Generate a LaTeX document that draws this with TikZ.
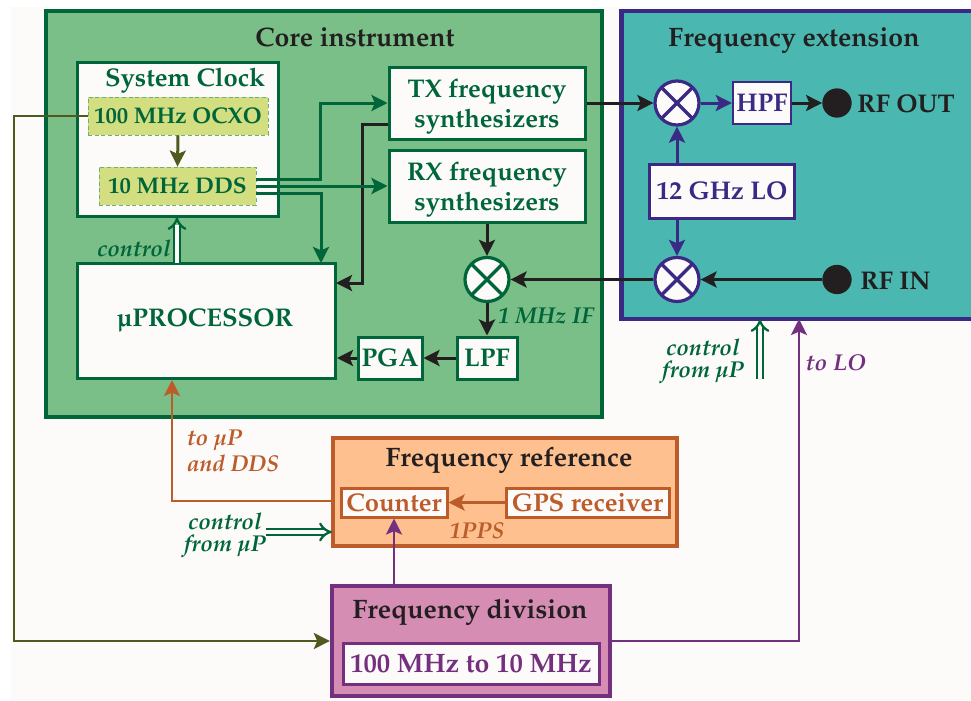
\documentclass[tikz,border=0pt]{standalone}
\usepackage[T1]{fontenc}
\usepackage{textcomp}
\usepackage{palatino}
\usetikzlibrary{arrows.meta}

\definecolor{paper}{HTML}{FDFBFA}
\definecolor{inkblack}{HTML}{231F20}
\definecolor{instgreen}{HTML}{00663A}
\definecolor{instfill}{HTML}{79BF87}
\definecolor{extblue}{HTML}{3B2A85}
\definecolor{extfill}{HTML}{4AB8B0}
\definecolor{reforange}{HTML}{BC5C2A}
\definecolor{reffill}{HTML}{FDC08E}
\definecolor{divpurple}{HTML}{74307F}
\definecolor{divfill}{HTML}{D68DB4}
\definecolor{clockolive}{HTML}{4F5A1F}
\definecolor{clockfill}{HTML}{D3DE80}
\definecolor{clockdash}{HTML}{6FB07A}

\newcommand{\titlefont}{\fontsize{20}{24}\selectfont\bfseries}
\newcommand{\blockfont}{\fontsize{19.2}{22.5}\selectfont\bfseries}
\newcommand{\clockfont}{\fontsize{17}{20}\selectfont\bfseries}
\newcommand{\notefont}{\fontsize{17.2}{16.5}\selectfont\bfseries\itshape}

\tikzset{
	boxsize/.style 2 args={minimum width=#1*0.75pt, minimum height=#2*0.75pt},
	panel/.style={draw=#1, line width=3.2pt, inner sep=0pt},
	block/.style={draw=#1, text=#1, fill=paper, line width=2.25pt, inner sep=0pt, align=center, font=\blockfont},
	blocktext/.style={text=#1, inner sep=0pt, align=center, font=\blockfont},
	clockbox/.style={draw=clockdash, densely dashed, fill=clockfill, text=instgreen, line width=0.6pt, inner sep=0pt, font=\clockfont},
	mixer/.style={circle, draw=#1, fill=paper, line width=2.4pt, inner sep=0pt, minimum size=33pt, path picture={
		\draw[#1, line width=2.4pt] (path picture bounding box.north west) -- (path picture bounding box.south east);
		\draw[#1, line width=2.4pt] (path picture bounding box.north east) -- (path picture bounding box.south west);
	}},
	port/.style={circle, fill=inkblack, inner sep=0pt, minimum size=22pt},
	title/.style={text=inkblack, font=\titlefont, inner sep=0pt},
	note/.style={text=#1, font=\notefont, inner sep=0pt, align=center},
	wire/.style={draw=#1, line width=2.25pt, -{Stealth[length=12pt, width=12pt, inset=2.5pt]}},
	thinwire/.style={draw=#1, line width=2.05pt, -{Stealth[length=12pt, width=12pt, inset=2.5pt]}},
	ctrlwire/.style={draw=instgreen, line width=1.7pt, double=paper, double distance=3pt, -{Implies[scale=1.3]}}
}

\begin{document}
\begin{tikzpicture}[x=0.75pt, y=-0.75pt]
	\useasboundingbox (0,0) rectangle (971,700);
	\fill[paper] (11,7) rectangle (971,700);

	\node[panel=instgreen, fill=instfill, boxsize={556}{406}] (core) at (324,214) {};
	\node[panel=extblue, fill=extfill, boxsize={353}{308}] (ext) at (798,165) {};
	\node[panel=reforange, fill=reffill, boxsize={344}{108}] (ref) at (505,492) {};
	\node[panel=divpurple, fill=divfill, boxsize={278}{110}] (div) at (471,641) {};

	\node[title] (coretitle) at (355,37) {Core instrument};
	\node[title] (exttitle) at (794,41) {Frequency extension};
	\node[title] (reftitle) at (509,460) {Frequency reference};
	\node[title] (divtitle) at (470,612) {Frequency division};

	\node[block=instgreen, boxsize={201}{154}] (clock) at (177.5,139) {};
	\node[blocktext=instgreen] (clocktitle) at (185,81) {System Clock};
	\node[clockbox, boxsize={180}{38}] (ocxo) at (178,116) {100 MHz OCXO};
	\node[clockbox, boxsize={157}{38}] (dds) at (177.5,186) {10 MHz DDS};
	\node[block=instgreen, boxsize={196}{72}] (tx) at (487,103) {};
	\node[blocktext=instgreen] (txtext) at (487,107) {TX frequency\\synthesizers};
	\node[block=instgreen, boxsize={196}{72}] (rx) at (487,186) {};
	\node[blocktext=instgreen] (rxtext) at (487,190) {RX frequency\\synthesizers};
	\node[mixer=instgreen] (mix) at (487,279.5) {};
	\node[block=instgreen, boxsize={60}{42}] (lpf) at (487,358) {LPF};
	\node[block=instgreen, boxsize={64}{42}] (pga) at (390,358) {PGA};
	\node[block=instgreen, boxsize={258}{115}] (up) at (206.5,321) {};
	\node[blocktext=instgreen] (uptext) at (205,320) {\textmu PROCESSOR};

	\node[mixer=extblue] (mixt) at (677,103) {};
	\node[mixer=extblue] (mixb) at (677,279.5) {};
	\node[block=extblue, boxsize={58}{42}, line width=1.8pt] (hpf) at (762,103) {HPF};
	\node[block=extblue, boxsize={145}{54}] (lo) at (722,191) {12 GHz LO};
	\node[port] (rfout) at (837,103) {};
	\node[port] (rfin) at (837,279.5) {};
	\node[title, font=\blockfont] (rfouttext) at (906,104) {RF OUT};
	\node[title, font=\blockfont] (rfintext) at (895.5,281) {RF IN};

	\node[block=reforange, boxsize={106}{29}] (counter) at (394,502.5) {Counter};
	\node[block=reforange, boxsize={163}{29}] (gps) at (587.5,502.5) {GPS receiver};
	\node[block=divpurple, boxsize={256}{41}, font=\titlefont] (conv) at (471,663.5) {100 MHz to 10 MHz};

	\node[note=instgreen] (ctrlclock) at (134,249) {control};
	\node[note=instgreen] (imf) at (546,316) {1 MHz IF};
	\node[note=instgreen] (ctrlext) at (703,361) {control\\from \textmu P};
	\node[note=divpurple] (tolo) at (836,363) {to LO};
	\node[note=reforange, align=left, font=\fontsize{17.2}{19}\selectfont\bfseries\itshape] (toup) at (233,451) {to \textmu P\\and DDS};
	\node[note=reforange] (pps) at (477,530) {1PPS};
	\node[note=instgreen] (ctrlref) at (225,535) {control\\from \textmu P};

	\coordinate (oscbus) at (14,641);
	\coordinate (ddstx) at (256,179);
	\coordinate (txbend) at (320,179);
	\coordinate (ddsup) at (256,193);
	\coordinate (upin) at (321,263);
	\coordinate (txout) at (388,124);
	\coordinate (upret) at (362,283);
	\coordinate (upback) at (336,283);
	\coordinate (lotap) at (799,319);
	\coordinate (refout) at (333,501);
	\coordinate (upref) at (172,380);
	\coordinate (ctrlup) at (177,263);
	\coordinate (ctrlclk) at (177,217);
	\coordinate (ctrlfrom) at (760,379);
	\coordinate (ctrlto) at (760,319);
	\coordinate (ctrlsrc) at (266,532);
	\coordinate (ctrldst) at (332,532);

	\draw[thinwire=clockolive] (ocxo.west) -| (oscbus) -- (div.west);
	\draw[wire=clockolive] (ocxo.south) -- (dds.north);

	\draw[wire=inkblack] (txout) -| (upret) -- (upback);
	\draw[wire=instgreen] (ddstx) -- (txbend) |- (tx.west);
	\draw[wire=instgreen] (dds.east) -- (rx.west);
	\draw[wire=instgreen] (ddsup) -| (upin);
	\draw[wire=inkblack] (rx.south) -- (mix.north);
	\draw[wire=inkblack] (mix.south) -- (lpf.north);
	\draw[wire=inkblack] (lpf.west) -- (pga.east);
	\draw[wire=inkblack] (pga.west) -- (up.east |- pga.west);
	\draw[wire=inkblack] (tx.east) -- (mixt.west);
	\draw[wire=inkblack] (mixb.west) -- (mix.east);

	\draw[wire=extblue] (mixt.east) -- (hpf.west);
	\draw[wire=inkblack] (hpf.east) -- (rfout.west);
	\draw[wire=extblue] (lo.north -| mixt.south) -- (mixt.south);
	\draw[wire=extblue] (lo.south -| mixb.north) -- (mixb.north);
	\draw[wire=inkblack] (rfin.west) -- (mixb.east);

	\draw[thinwire=reforange] (refout) -| (upref);
	\draw[wire=reforange] (gps.west) -- (counter.east);
	\draw[thinwire=divpurple] (counter.south |- div.north) -- (counter.south);
	\draw[thinwire=divpurple] (div.east) -| (lotap);

	\draw[ctrlwire] (ctrlup) -- (ctrlclk);
	\draw[ctrlwire] (ctrlfrom) -- (ctrlto);
	\draw[ctrlwire] (ctrlsrc) -- (ctrldst);
\end{tikzpicture}
\end{document}
